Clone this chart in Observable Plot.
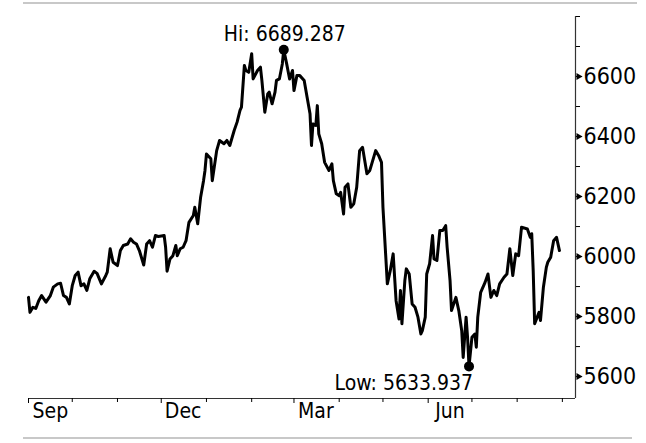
<!DOCTYPE html>
<html><head><meta charset="utf-8">
<script src="https://cdn.jsdelivr.net/npm/d3@7"></script>
<script src="https://cdn.jsdelivr.net/npm/@observablehq/plot@0.6"></script>
<style>
html,body{margin:0;padding:0;background:#fff;}
#wrap{position:relative;width:646px;height:443px;overflow:hidden;}
.rule{position:absolute;height:2px;background:#c8c8c8;}
#wrap svg{position:absolute;left:0;top:0;overflow:visible;}
</style></head><body>
<div id="wrap"><div class="rule" style="left:23px;width:614px;top:2px"></div><div class="rule" style="left:23px;width:609px;top:437px"></div></div>
<script>
const dates = [
"2023-09-01","2023-09-02","2023-09-04","2023-09-06","2023-09-08","2023-09-10","2023-09-13","2023-09-16","2023-09-18","2023-09-21","2023-09-23","2023-09-25","2023-09-27","2023-09-29",
"2023-10-01","2023-10-03","2023-10-05","2023-10-07","2023-10-09","2023-10-11","2023-10-13","2023-10-16","2023-10-18","2023-10-21","2023-10-24","2023-10-25","2023-10-27","2023-10-29",
"2023-11-01","2023-11-03","2023-11-05","2023-11-08","2023-11-10","2023-11-12","2023-11-14","2023-11-16","2023-11-19","2023-11-21","2023-11-23","2023-11-25","2023-11-27","2023-11-29",
"2023-12-03","2023-12-04","2023-12-05","2023-12-07","2023-12-09","2023-12-11","2023-12-12","2023-12-14","2023-12-16","2023-12-18","2023-12-20","2023-12-23","2023-12-24","2023-12-26","2023-12-28","2023-12-30","2023-12-31",
"2024-01-01","2024-01-04","2024-01-05","2024-01-08","2024-01-10","2024-01-13","2024-01-15","2024-01-17","2024-01-20","2024-01-22","2024-01-24","2024-01-25","2024-01-27","2024-01-28","2024-01-30",
"2024-02-01","2024-02-02","2024-02-05","2024-02-07","2024-02-08","2024-02-10","2024-02-12","2024-02-13","2024-02-15","2024-02-17","2024-02-18","2024-02-20","2024-02-22","2024-02-23","2024-02-25","2024-02-27","2024-02-29",
"2024-03-01","2024-03-03","2024-03-05","2024-03-08","2024-03-10","2024-03-12","2024-03-13","2024-03-14","2024-03-16","2024-03-17","2024-03-18","2024-03-20","2024-03-22","2024-03-25","2024-03-27","2024-03-28","2024-03-30",
"2024-04-01","2024-04-02","2024-04-04","2024-04-05","2024-04-07","2024-04-09","2024-04-11","2024-04-13","2024-04-15","2024-04-17","2024-04-20","2024-04-22","2024-04-26","2024-04-28","2024-04-30",
"2024-05-01","2024-05-04","2024-05-06","2024-05-08","2024-05-10","2024-05-12","2024-05-13","2024-05-14","2024-05-16","2024-05-17","2024-05-19","2024-05-21","2024-05-23","2024-05-25","2024-05-27","2024-05-28","2024-05-30","2024-05-31",
"2024-06-02","2024-06-04","2024-06-05","2024-06-07","2024-06-09","2024-06-11","2024-06-13","2024-06-14","2024-06-16","2024-06-17","2024-06-20","2024-06-22","2024-06-24","2024-06-25","2024-06-27","2024-06-28","2024-06-29",
"2024-07-01","2024-07-03","2024-07-04","2024-07-05","2024-07-07","2024-07-10","2024-07-12","2024-07-14","2024-07-16","2024-07-18","2024-07-20","2024-07-23","2024-07-25","2024-07-27","2024-07-29","2024-07-31",
"2024-08-02","2024-08-04","2024-08-08","2024-08-10","2024-08-11","2024-08-12","2024-08-13","2024-08-16","2024-08-17","2024-08-19","2024-08-21","2024-08-22","2024-08-24","2024-08-26","2024-08-28","2024-08-30"
];
const values = [
5864,5814,5831,5827,5853,5870,5848,5870,5898,5909,5911,5870,5864,5842,
5903,5937,5948,5903,5909,5887,5926,5951,5944,5909,5937,5948,6026,5981,
5970,6020,6037,6042,6059,6048,6042,6020,5972,6042,6053,6031,6070,6067,
6070,6031,5951,5992,6003,6037,6003,6026,6031,6053,6114,6137,6164,6109,6198,6253,6287,
6342,6326,6253,6353,6387,6376,6387,6370,6420,6448,6487,6498,6637,6620,6614,
6676,6592,6620,6631,6587,6481,6542,6548,6509,6548,6587,6592,6642,6689.287,6642,6592,6620,
6553,6603,6603,6587,6531,6476,6370,6442,6437,6503,6409,6376,6314,6287,6309,6253,6209,
6203,6214,6142,6231,6242,6164,6176,6231,6353,6364,6276,6287,6353,6337,6314,
6164,5909,5953,6009,5853,5792,5887,5776,5920,5959,5942,5842,5831,5798,5742,5753,5798,5942,
5976,6070,5992,5987,6087,6087,6103,6031,5920,5820,5864,5820,5753,5664,5798,5731,5633.937,
5731,5742,5698,5798,5881,5914,5942,5864,5887,5870,5909,5931,5942,6026,5937,6009,
6003,6098,6092,6064,6076,5953,5776,5814,5787,5898,5964,5981,5998,6053,6064,6020
];
const yLabelTicks = [5600, 5800, 6000, 6200, 6400, 6600];
const yMinorTicks = [5700, 5900, 6100, 6300, 6500, 6700, 6800];
const xLabelDates = ["2023-09-16", "2023-12-16", "2024-03-16", "2024-06-16"];
const xMonthTicks = ["2023-10-01","2023-11-01","2024-01-01","2024-02-01","2024-04-01","2024-05-01","2024-07-01","2024-08-01","2024-09-01"];
const xQuarterTicks = ["2023-09-01","2023-12-01","2024-03-01","2024-06-01"];
const xDomain = ["2023-09-01", "2024-09-10"];
const yDomain = [5527, 6800];

const parse = d3.utcParse("%Y-%m-%d");
const data = dates.map((d, i) => ({date: parse(d), value: values[i]}));
const hiRow = data[d3.maxIndex(data, d => d.value)];
const loRow = data[d3.minIndex(data, d => d.value)];
const xEnd = parse(xDomain[1]);
const fontFamily = "'DejaVu Sans Condensed','DejaVu Sans',sans-serif";

const chart = Plot.plot({
  width: 646, height: 443,
  marginLeft: 28, marginRight: 71, marginTop: 16, marginBottom: 45,
  x: {type: "utc", domain: xDomain.map(parse), label: null},
  y: {domain: yDomain, label: null},
  style: {fontFamily, fontSize: "22px", color: "black", background: "transparent"},
  marks: [
    Plot.ruleY([yDomain[0]], {stroke: "#333", strokeWidth: 1.2}),
    Plot.ruleX([xEnd], {stroke: "#333", strokeWidth: 1.2}),
    Plot.axisY(yLabelTicks, {anchor: "right", label: null, tickSize: 6, tickPadding: 2, tickFormat: d => String(d), fontSize: 23}),
    Plot.axisY(yMinorTicks, {anchor: "right", label: null, tickSize: 4, tickFormat: () => ""}),
    Plot.dot(yLabelTicks, {x: () => xEnd, y: d => d, symbol: "triangle", rotate: 90, r: 2.6, fill: "black", dx: 3}),
    Plot.axisX(xMonthTicks.map(parse), {anchor: "bottom", label: null, tickSize: 4, tickFormat: () => ""}),
    Plot.axisX(xQuarterTicks.map(parse), {anchor: "bottom", label: null, tickSize: 5, tickFormat: () => ""}),
    Plot.axisX(xLabelDates.map(parse), {anchor: "bottom", label: null, tickSize: 0, tickPadding: 5, tickFormat: d3.utcFormat("%b"), fontSize: 21}),
    Plot.lineY(data, {x: "date", y: "value", stroke: "black", strokeWidth: 3, strokeLinejoin: "round"}),
    Plot.dot([hiRow, loRow], {x: "date", y: "value", r: 5, fill: "black"}),
    Plot.text([hiRow], {x: "date", y: "value", text: d => "Hi: " + d.value.toFixed(3), dy: -15, dx: 1, fontSize: 21, fill: "black"}),
    Plot.text([loRow], {x: "date", y: "value", text: d => "Low: " + d.value.toFixed(3), textAnchor: "end", dy: 17, dx: 4, fontSize: 21, fill: "black"})
  ]
});
document.getElementById("wrap").appendChild(chart);
</script>
</body></html>
